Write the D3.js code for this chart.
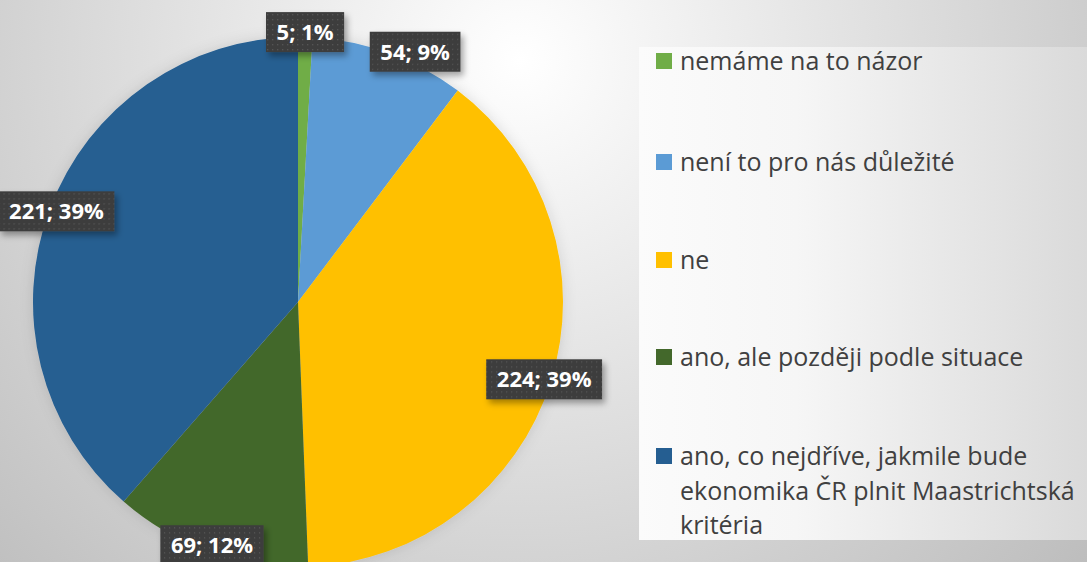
<!DOCTYPE html>
<meta charset="utf-8">
<script src="https://d3js.org/d3.v7.min.js"></script>
<style>
  body { margin: 0; overflow: hidden; }
</style>
<div id="chart"></div>
<script>
// data
const categories = [
  "nemáme na to názor",
  "není to pro nás důležité",
  "ne",
  "ano, ale později podle situace",
  "ano, co nejdříve, jakmile bude ekonomika ČR plnit Maastrichtská kritéria"
];
const counts = [5, 54, 224, 69, 221];
const percents = ["1%", "9%", "39%", "12%", "39%"];
const colors = ["#70ad47", "#5b9bd5", "#ffc000", "#43682b", "#255e91"];
// legend text as it wraps in the picture
const legendLines = [
  ["nemáme na to názor"],
  ["není to pro nás důležité"],
  ["ne"],
  ["ano, ale později podle situace"],
  ["ano, co nejdříve, jakmile bude", "ekonomika ČR plnit Maastrichtská", "kritéria"]
];

const width = 1087, height = 562;
const cx = 298, cy = 302, radius = 265;
const font = "'Open Sans', sans-serif";

const svg = d3.select("#chart").append("svg")
  .attr("width", width)
  .attr("height", height);

const defs = svg.append("defs");

// background gradient
const bg = defs.append("radialGradient")
  .attr("id", "bg")
  .attr("gradientUnits", "userSpaceOnUse")
  .attr("cx", 520).attr("cy", 60).attr("r", 760);
bg.append("stop").attr("offset", "0%").attr("stop-color", "#ffffff");
bg.append("stop").attr("offset", "100%").attr("stop-color", "#bdbdbd");

const lg = defs.append("linearGradient")
  .attr("id", "legbg")
  .attr("x1", "0%").attr("x2", "100%").attr("y1", "0%").attr("y2", "0%");
lg.append("stop").attr("offset", "0%").attr("stop-color", "#fbfbfb");
lg.append("stop").attr("offset", "35%").attr("stop-color", "#f6f6f6");
lg.append("stop").attr("offset", "100%").attr("stop-color", "#dadada");

// dotted texture for label boxes
const pat = defs.append("pattern")
  .attr("id", "dots")
  .attr("width", 5).attr("height", 5)
  .attr("patternUnits", "userSpaceOnUse");
pat.append("rect").attr("width", 5).attr("height", 5).attr("fill", "#3d3d3d");
pat.append("rect").attr("x", 2).attr("y", 2).attr("width", 1.2).attr("height", 1.2).attr("fill", "#585858");

const shadow = defs.append("filter").attr("id", "shadow")
  .attr("x", "-20%").attr("y", "-20%").attr("width", "150%").attr("height", "170%");
shadow.append("feDropShadow")
  .attr("dx", 3).attr("dy", 4).attr("stdDeviation", 3)
  .attr("flood-color", "#000").attr("flood-opacity", 0.35);

const glow = defs.append("filter").attr("id", "glow")
  .attr("x", "-10%").attr("y", "-10%").attr("width", "120%").attr("height", "120%");
glow.append("feDropShadow")
  .attr("dx", 0).attr("dy", 0).attr("stdDeviation", 7)
  .attr("flood-color", "#000").attr("flood-opacity", 0.12);

svg.append("rect").attr("width", width).attr("height", height).attr("fill", "url(#bg)");

// legend panel
svg.append("rect")
  .attr("x", 639).attr("y", 47)
  .attr("width", width - 639).attr("height", 493)
  .attr("fill", "url(#legbg)");

// pie
const data = categories.map((c, i) => ({ name: c, value: counts[i], pct: percents[i], color: colors[i] }));
const pie = d3.pie().value(d => d.value).sort(null);
const arcs = pie(data);
const arc = d3.arc().innerRadius(0).outerRadius(radius);
const labelR = 258;
const labelArc = d3.arc().innerRadius(labelR).outerRadius(labelR);

const g = svg.append("g").attr("transform", `translate(${cx},${cy})`);
g.append("g").attr("filter", "url(#glow)")
  .selectAll("path")
  .data(arcs)
  .join("path")
  .attr("d", arc)
  .attr("fill", d => d.data.color);

// data labels
const lab = g.selectAll("g.lab")
  .data(arcs)
  .join("g")
  .attr("class", "lab");

lab.append("text")
  .attr("text-anchor", "middle")
  .attr("dy", "0.36em")
  .attr("fill", "#ffffff")
  .style("font-family", font)
  .style("font-weight", "bold")
  .style("font-size", "22px")
  .text(d => `${d.data.value}; ${d.data.pct}`);

const boxes = [];
lab.each(function(d) {
  const grp = d3.select(this);
  const bb = grp.select("text").node().getBBox();
  const w = bb.width + 21, h = 40;
  let [x, y] = labelArc.centroid(d);
  // small slices near the top get lifted a little, like the original
  if (d.endAngle - d.startAngle < 0.1) y -= 12;
  // push a box outward and sideways until it clears the boxes already placed
  const a = (d.startAngle + d.endAngle) / 2;
  let r = labelR;
  const hit = () => boxes.some(b => Math.abs(b.x - x) < (b.w + w) / 2 + 24 && Math.abs(b.y - y) < (b.h + h) / 2 + 4);
  let k = 0;
  while (hit() && k < 40) {
    k++;
    r += 0.5;
    x = Math.sin(a) * r + k * 1.5;
    y = -Math.cos(a) * r;
  }
  boxes.push({ x, y, w, h });
  grp.attr("transform", `translate(${x},${y})`);
  grp.insert("rect", "text")
    .attr("x", -w / 2)
    .attr("y", -h / 2)
    .attr("width", w)
    .attr("height", h)
    .attr("fill", "url(#dots)")
    .attr("filter", "url(#shadow)");
});

// legend
const legY = [61, 162, 260, 357, 456];
const leg = svg.append("g").selectAll("g")
  .data(data)
  .join("g")
  .attr("transform", (d, i) => `translate(656,${legY[i]})`);

leg.append("rect")
  .attr("x", 0).attr("y", -8)
  .attr("width", 16).attr("height", 16)
  .attr("fill", d => d.color);

leg.append("text")
  .attr("fill", "#404040")
  .style("font-family", font)
  .style("font-size", "25px")
  .selectAll("tspan")
  .data((d, i) => legendLines[i])
  .join("tspan")
  .attr("x", 24)
  .attr("y", (d, j) => j * 34.5)
  .attr("dy", "0.36em")
  .text(d => d);
</script>
